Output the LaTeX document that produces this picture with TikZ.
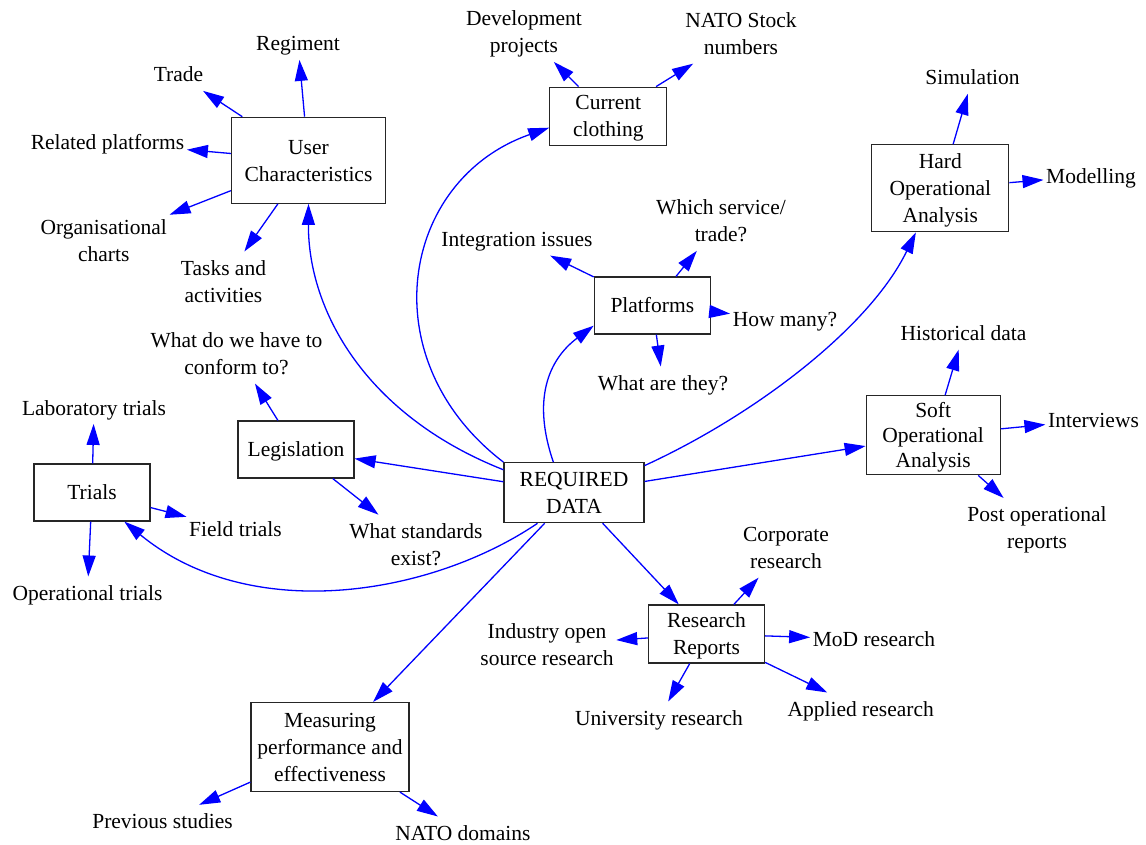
\documentclass[tikz,border=0pt]{standalone}
\usepackage{fontspec}
\setmainfont{Liberation Serif}
\usetikzlibrary{arrows.meta}
% struts give every text line the same height and depth
\newcommand\lstrut{\rule[-6.2pt]{0pt}{27pt}}
\newcommand\sstrut{\rule[-5.5pt]{0pt}{25pt}}

\begin{document}
\begin{tikzpicture}[x=1pt,y=-1pt,
  every node/.style={font=\fontsize{21.5}{27}\selectfont, align=center},
  box/.style={draw=black!85, line width=1.2pt, inner sep=2pt,
              minimum width=116pt, minimum height=57pt},
  lbl/.style={inner xsep=2.5pt, inner ysep=2.5pt},
  link/.style={draw=blue, line width=1.3pt,
               -{Triangle[length=21pt,width=13pt]}},
]
\useasboundingbox (0,0) rectangle (1146,845);

% ---- boxes
\node[box, minimum width=154pt, minimum height=86pt] (uc) at (308.5,160.3)
  {\lstrut User\\\lstrut Characteristics};
\node[box, minimum width=117pt, minimum height=58pt] (cc) at (608.3,116.2)
  {\lstrut Current\\\lstrut clothing};
\node[box, minimum width=137pt, minimum height=87pt] (hoa) at (940.3,188.3)
  {\lstrut Hard\\\lstrut Operational\\\lstrut Analysis};
\node[box] (pl) at (652.3,305.5) {\lstrut Platforms};
\node[box, minimum width=140pt, minimum height=60pt] (rd) at (574,492.7)
  {\lstrut REQUIRED\\\lstrut DATA};
\node[box] (leg) at (296,449.5) {\lstrut Legislation};
\node[box] (tr) at (92,492.5) {\lstrut Trials};
\node[box, minimum width=134pt, minimum height=77pt,
      font=\fontsize{21.5}{25}\selectfont] (soa) at (933.2,435.3)
  {\sstrut Soft\\\sstrut Operational\\\sstrut Analysis};
\node[box] (rr) at (706.5,634) {\lstrut Research\\\lstrut Reports};
\node[box, minimum width=158pt, minimum height=89pt] (mpe) at (330,747)
  {\lstrut Measuring\\\lstrut performance and\\\lstrut effectiveness};

% ---- plain labels
\node[lbl] (reg) at (298,43.7) {\lstrut Regiment};
\node[lbl] (trd) at (178.5,74.7) {\lstrut Trade};
\node[lbl] (rpl) at (107.5,142.7) {\lstrut Related platforms};
\node[lbl] (org) at (103.7,240.5) {\lstrut Organisational\\\lstrut charts};
\node[lbl] (tsk) at (223.5,281.2) {\lstrut Tasks and\\\lstrut activities};
\node[lbl] (dev) at (524,32.2) {\lstrut Development\\\lstrut projects};
\node[lbl] (nsn) at (741,34) {\lstrut NATO Stock\\\lstrut numbers};
\node[lbl] (sim) at (972.5,77.7) {\lstrut Simulation};
\node[lbl] (mod) at (1091,176) {\lstrut Modelling};
\node[lbl] (his) at (963.5,333.4) {\lstrut Historical data};
\node[lbl] (itv) at (1093.5,420) {\lstrut Interviews};
\node[lbl] (por) at (1037,527.7) {\lstrut Post operational\\\lstrut reports};
\node[lbl] (lab) at (94,407.7) {\lstrut Laboratory trials};
\node[lbl] (fld) at (235.5,529.4) {\lstrut Field trials};
\node[lbl] (opt) at (87.5,592.7) {\lstrut Operational trials};
\node[lbl] (cnf) at (236.5,353.9) {\lstrut What do we have to\\\lstrut conform to?};
\node[lbl] (std) at (416,544.4) {\lstrut What standards\\\lstrut exist?};
\node[lbl] (wst) at (721,221.2) {\lstrut Which service/\\\lstrut trade?};
\node[lbl] (int) at (517,239.4) {\lstrut Integration issues};
\node[lbl] (hmn) at (785,319.4) {\lstrut How many?};
\node[lbl] (wat) at (663,382.7) {\lstrut What are they?};
\node[lbl] (cor) at (786,548) {\lstrut Corporate\\\lstrut research};
\node[lbl] (ind) at (547,644.7) {\lstrut Industry open\\\lstrut source research};
\node[lbl] (mdr) at (874,639.4) {\lstrut MoD research};
\node[lbl] (uni) at (659,717.7) {\lstrut University research};
\node[lbl] (apr) at (860.7,708.7) {\lstrut Applied research};
\node[lbl] (prv) at (162.5,821) {\lstrut Previous studies};
\node[lbl] (ntd) at (463,832.7) {\lstrut NATO domains};

% ---- straight connectors
\draw[link] (uc) -- (reg);
\draw[link] (uc) -- (trd);
\draw[link] (uc) -- (rpl);
\draw[link] (uc) -- (org);
\draw[link] (uc) -- (tsk);
\draw[link] (cc) -- (dev);
\draw[link] (cc) -- (nsn);
\draw[link] (hoa) -- (sim);
\draw[link] (hoa) -- (mod);
\draw[link] (pl) -- (wst);
\draw[link] (pl) -- (int);
\draw[link] (pl) -- (hmn);
\draw[link] (pl) -- (wat);
\draw[link] (leg) -- (cnf);
\draw[link] (leg) -- (std);
\draw[link] (tr) -- (lab);
\draw[link] (tr) -- (fld);
\draw[link] (tr) -- (opt);
\draw[link] (soa) -- (his);
\draw[link] (soa) -- (itv);
\draw[link] (soa) -- (por);
\draw[link] (rr) -- (cor);
\draw[link] (rr) -- (ind);
\draw[link] (rr) -- (mdr);
\draw[link] (rr) -- (uni);
\draw[link] (rr) -- (apr);
\draw[link] (mpe) -- (prv);
\draw[link] (mpe) -- (ntd);
\draw[link] (rd) -- (soa);
\draw[link] (rd) -- (leg);
\draw[link] (rd) -- (rr);
\draw[link] (rd) -- (mpe);

% ---- curved connectors from the centre box
\draw[link] (rd.162) .. controls (365,415) and (308,310) .. (uc.south);
\draw[link] (rd.north west) .. controls (370,360) and (400,180) .. (cc.191);
\draw[link] (rd.124) .. controls (532,400) and (548,360) .. (pl.199);
\draw[link] (rd.21) .. controls (755,415) and (869.5,327.7) .. (hoa.241);
\draw[link] (rd.220) .. controls (430,596) and (250,625) .. (tr.318);
\end{tikzpicture}
\end{document}
